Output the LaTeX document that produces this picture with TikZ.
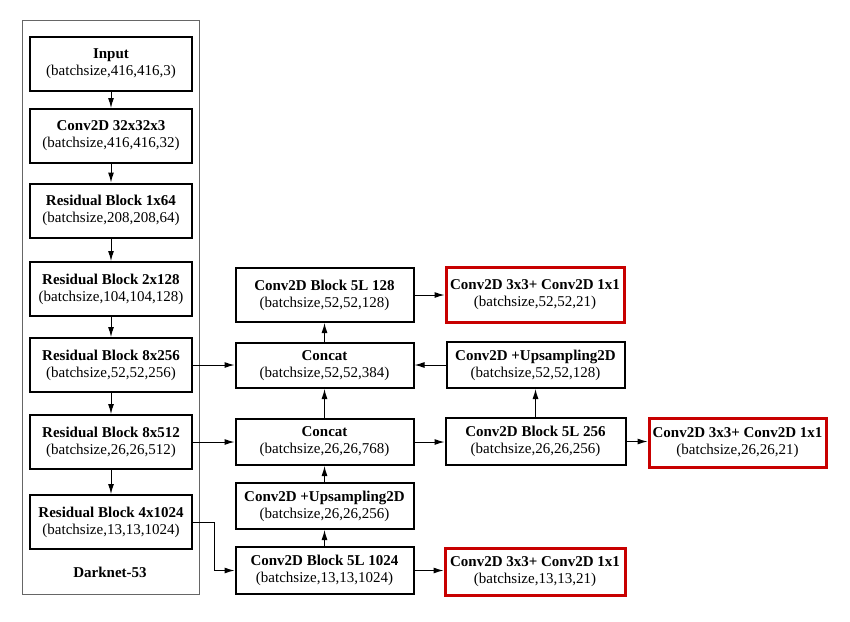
\documentclass[tikz,border=0pt]{standalone}
\usepackage{fontspec}
\setmainfont{Liberation Serif}
\usetikzlibrary{arrows.meta}
\definecolor{boxred}{RGB}{200,0,0}
\begin{document}
\begin{tikzpicture}[x=1pt,y=-1pt,
font=\fontsize{15}{17}\selectfont,
nn/.style={draw,line width=2pt,align=center,inner sep=0pt,minimum width=178pt},
lb/.style={nn,minimum width=162pt,minimum height=54pt},
rr/.style={nn,draw=boxred,line width=3pt},
arr/.style={line width=1pt,-{Latex[length=10pt,width=6pt]}}]
\useasboundingbox (0,0) rectangle (850,621);
%\draw[help lines,step=50] (0,0) grid (850,621);
\draw[gray!80!black,line width=0.8pt] (22,20) rectangle (199,594);
\node (dn) at (110,572) {\bfseries Darknet-53};
% backbone
\node (inp) at (111,63.5) [lb] {\bfseries Input\\(batchsize,416,416,3)};
\node (c32) at (111,136) [lb] {\bfseries Conv2D 32x32x3\\(batchsize,416,416,32)};
\node (r64) at (111,210.5) [lb] {\bfseries Residual Block 1x64\\(batchsize,208,208,64)};
\node (r128) at (111,289) [lb] {\bfseries Residual Block 2x128\\(batchsize,104,104,128)};
\node (r256) at (111,365) [lb] {\bfseries Residual Block 8x256\\(batchsize,52,52,256)};
\node (r512) at (111,442) [lb] {\bfseries Residual Block 8x512\\(batchsize,26,26,512)};
\node (r1024) at (111,522) [lb] {\bfseries Residual Block 4x1024\\(batchsize,13,13,1024)};
% neck
\node (b128) at (324.5,295) [nn,minimum height=54pt] {\bfseries Conv2D Block 5L 128\\(batchsize,52,52,128)};
\node (cat52) at (324.5,365.5) [nn,minimum height=45pt] {\bfseries Concat\\(batchsize,52,52,384)};
\node (cat26) at (324.5,442) [nn,minimum height=46pt] {\bfseries Concat\\(batchsize,26,26,768)};
\node (up26) at (324.5,506) [nn,minimum height=46pt] {\bfseries Conv2D +Upsampling2D\\(batchsize,26,26,256)};
\node (b1024) at (324.5,570.5) [nn,minimum height=47pt] {\bfseries Conv2D Block 5L 1024\\(batchsize,13,13,1024)};
\node (up52) at (535.5,365) [nn,minimum height=46pt] {\bfseries Conv2D +Upsampling2D\\(batchsize,52,52,128)};
\node (b256) at (535.5,441.5) [nn,minimum width=180pt,minimum height=47pt] {\bfseries Conv2D Block 5L 256\\(batchsize,26,26,256)};
% heads
\node (h52) at (535,294.5) [rr,minimum height=55pt] {\bfseries Conv2D 3x3+ Conv2D 1x1\\(batchsize,52,52,21)};
\node (h26) at (737.5,442.5) [rr,minimum width=177pt,minimum height=49pt] {\bfseries Conv2D 3x3+ Conv2D 1x1\\(batchsize,26,26,21)};
\node (h13) at (535,571.5) [rr,minimum width=180pt,minimum height=47pt] {\bfseries Conv2D 3x3+ Conv2D 1x1\\(batchsize,13,13,21)};
\foreach \a/\b in {inp/c32,c32/r64,r64/r128,r128/r256,r256/r512,r512/r1024,b1024/up26,up26/cat26,cat26/cat52,cat52/b128}
  \draw[arr] (\a) -- (\b);
\draw[arr] (r256.east) -- (r256.east -| cat52.west);
\draw[arr] (r512.east) -- (r512.east -| cat26.west);
\draw[arr] (r1024.east) -- ++(21,0) |- (b1024.west);
\draw[arr] (b128.east) -- (b128.east -| h52.west);
\draw[arr] (cat26.east) -- (cat26.east -| b256.west);
\draw[arr] (b256) -- (up52);
\draw[arr] (up52.west) -- (up52.west -| cat52.east);
\draw[arr] (b256.east) -- (b256.east -| h26.west);
\draw[arr] (b1024.east) -- (b1024.east -| h13.west);
\end{tikzpicture}
\end{document}
